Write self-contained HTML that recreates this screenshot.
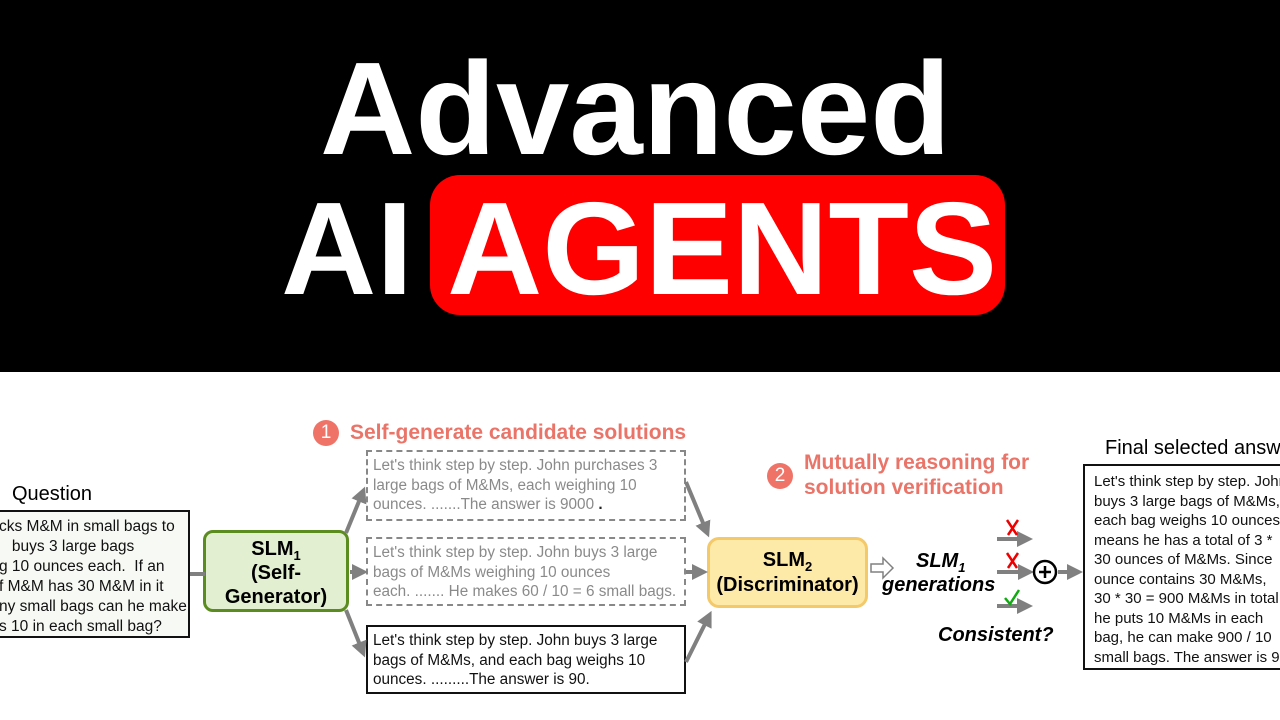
<!DOCTYPE html>
<html><head><meta charset="utf-8"><style>
*{margin:0;padding:0;box-sizing:border-box}
body{width:1280px;height:720px;overflow:hidden;background:#fff;position:relative;font-family:"Liberation Sans",sans-serif}
.top{position:absolute;left:0;top:0;width:1280px;height:372px;background:#000}
.t{position:absolute;color:#fff;font-weight:bold;font-size:132px;line-height:1;white-space:nowrap}
.red{position:absolute;left:430px;top:175px;width:575px;height:140px;background:#f00;border-radius:30px}
.a{position:absolute;white-space:nowrap;line-height:1}
.box{position:absolute;font-size:15.3px;line-height:19.5px;padding:4px 5px;white-space:nowrap;overflow:hidden}
.dash{border:2px dashed #888;color:#8a8a8a}
.sol{border:2px solid #111;color:#111}
.num{position:absolute;width:26px;height:26px;border-radius:50%;background:#f07368;color:#fff;font-size:19px;text-align:center;line-height:26px}
.hd{position:absolute;color:#ea7468;font-weight:bold;font-size:21px;line-height:25px;white-space:nowrap}
sub{line-height:0;font-size:13px}
</style></head><body>
<div class="top"></div>
<div class="t" style="left:320px;top:43px">Advanced</div>
<div class="t" style="left:281px;top:183px">AI</div>
<div class="red"></div>
<div class="t" style="left:447px;top:183px">AGENTS</div>

<div class="a" style="left:12px;top:484px;font-size:20px">Question</div>
<div class="box sol" style="left:-5px;top:510px;width:195px;height:128px;background:#f7faf4;padding:5px 0 0 2px;line-height:20px;font-size:15.5px">cks M&amp;M in small bags to<br>&nbsp;&nbsp;&nbsp;buys 3 large bags<br>g 10 ounces each.&nbsp; If an<br>f M&amp;M has 30 M&amp;M in it<br>ny small bags can he make<br>s 10 in each small bag?</div>

<div style="position:absolute;left:203px;top:530px;width:146px;height:82px;border:3px solid #5b8c1f;background:#e2efd0;border-radius:10px;font-weight:bold;font-size:20px;line-height:24px;text-align:center;padding-top:4px">SLM<sub>1</sub><br>(Self-<br>Generator)</div>

<div class="num" style="left:313px;top:420px">1</div>
<div class="hd" style="left:350px;top:420px">Self-generate candidate solutions</div>

<div class="box dash" style="left:366px;top:450px;width:320px;height:71px">Let's think step by step. John purchases 3<br>large bags of M&amp;Ms, each weighing 10<br>ounces. .......The answer is 9000 <b style="color:#222">.</b></div>
<div class="box dash" style="left:366px;top:537px;width:320px;height:69px">Let's think step by step. John buys 3 large<br>bags of M&amp;Ms weighing 10 ounces<br>each. ....... He makes 60 / 10 = 6 small bags.</div>
<div class="box sol" style="left:366px;top:625px;width:320px;height:69px">Let's think step by step. John buys 3 large<br>bags of M&amp;Ms, and each bag weighs 10<br>ounces. .........The answer is 90.</div>

<div style="position:absolute;left:707px;top:537px;width:161px;height:71px;border:3px solid #f3c96a;background:#fde9a8;border-radius:12px;font-weight:bold;font-size:20px;line-height:25px;text-align:center;padding-top:8px">SLM<sub>2</sub><br>(Discriminator)</div>

<div class="num" style="left:767px;top:463px">2</div>
<div class="hd" style="left:804px;top:450px">Mutually reasoning for<br>solution verification</div>

<div class="a" style="left:916px;top:551px;font-size:20px;font-weight:bold;font-style:italic">SLM<sub>1</sub></div>
<div class="a" style="left:882px;top:575px;font-size:20px;font-weight:bold;font-style:italic">generations</div>
<div class="a" style="left:938px;top:625px;font-size:20px;font-weight:bold;font-style:italic">Consistent?</div>

<div class="a" style="left:1105px;top:438px;font-size:20px">Final selected answer</div>
<div class="box sol" style="left:1083px;top:464px;width:220px;height:206px;line-height:19.5px;font-size:15px;padding:6px 9px">Let's think step by step. John<br>buys 3 large bags of M&amp;Ms,<br>each bag weighs 10 ounces.<br>means he has a total of 3 *<br>30 ounces of M&amp;Ms. Since<br>ounce contains 30 M&amp;Ms,<br>30 * 30 = 900 M&amp;Ms in total<br>he puts 10 M&amp;Ms in each<br>bag, he can make 900 / 10<br>small bags. The answer is 90</div>

<svg style="position:absolute;left:0;top:0" width="1280" height="720">
<defs><marker id="m" viewBox="0 0 10 10" refX="5" refY="5" markerWidth="4" markerHeight="4" orient="auto"><path d="M0,0L10,5L0,10z" fill="#808080"/></marker></defs>
<g stroke="#808080" stroke-width="4" fill="none" marker-end="url(#m)">
<line x1="190" y1="574" x2="205" y2="574" marker-end="none"/>
<line x1="346" y1="533" x2="362" y2="494"/>
<line x1="350" y1="572" x2="360" y2="572"/>
<line x1="346" y1="610" x2="362" y2="650"/>
<line x1="686" y1="482" x2="706" y2="530"/>
<line x1="686" y1="572" x2="700" y2="572"/>
<line x1="686" y1="662" x2="708" y2="618"/>
<line x1="997" y1="539" x2="1025" y2="539"/>
<line x1="997" y1="572" x2="1026" y2="572"/>
<line x1="997" y1="606" x2="1025" y2="606"/>
<line x1="1058" y1="572" x2="1075" y2="572"/>
</g>
<path d="M871,564h12v-6l10,10l-10,10v-6h-12z" fill="#fff" stroke="#808080" stroke-width="1.5"/>
<circle cx="1045" cy="572" r="11" fill="#fff" stroke="#000" stroke-width="2.5"/>
<path d="M1039,572h12M1045,566v12" stroke="#000" stroke-width="2.5"/>
<path d="M1007,520l10,15M1018,520l-10,15" stroke="#e00" stroke-width="2.5"/>
<path d="M1007,553l10,15M1018,553l-10,15" stroke="#e00" stroke-width="2.5"/>
<path d="M1005,598l5,6l9,-14" stroke="#1a1" stroke-width="2.5" fill="none"/>
</svg>
</body></html>
